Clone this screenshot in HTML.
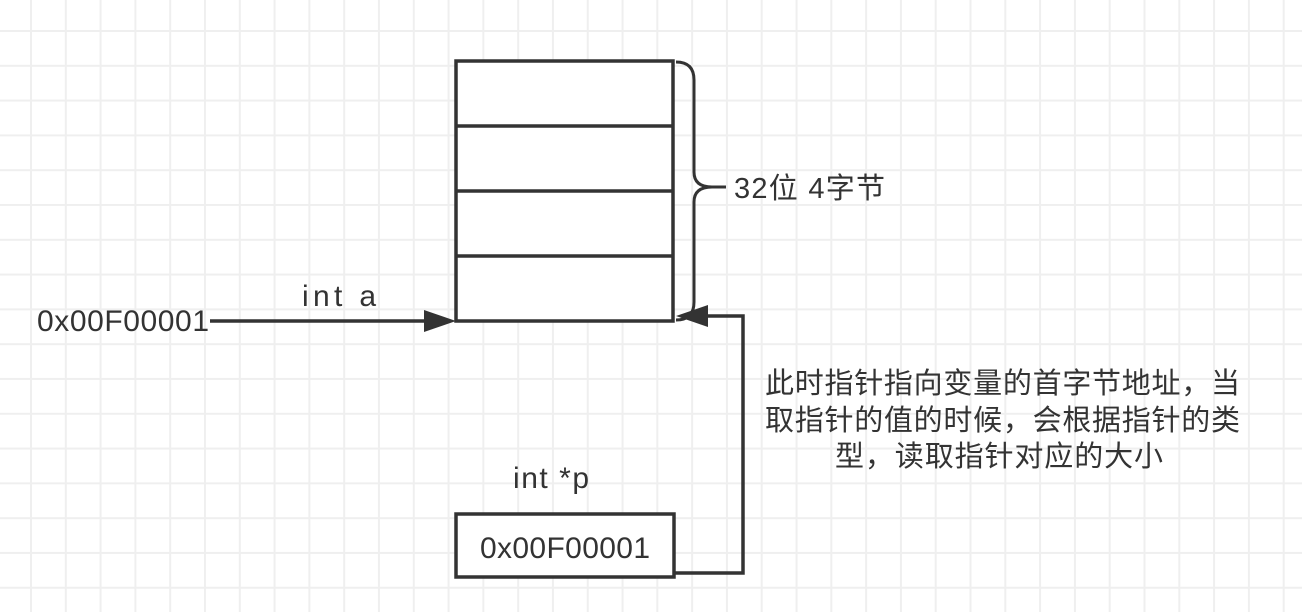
<!DOCTYPE html>
<html><head><meta charset="utf-8"><style>
html,body{margin:0;padding:0}
body{width:1302px;height:612px;overflow:hidden;background:#fff;position:relative;
background-image:linear-gradient(to right,#efefef 0,#efefef 2px,transparent 2px),linear-gradient(to bottom,#efefef 0,#efefef 2px,transparent 2px);
background-size:34.8px 34.8px;background-position:30px 30px;}
svg{position:absolute;left:0;top:0}
text{font-family:"Liberation Sans","Noto Sans CJK SC",sans-serif;fill:#333}
</style></head><body>
<svg width="1302" height="612" viewBox="0 0 1302 612">
<g stroke="#333" stroke-width="3.5" fill="none">
<rect x="456" y="61" width="217" height="260" fill="#fff"/>
<line x1="456" y1="126" x2="673" y2="126"/>
<line x1="456" y1="191" x2="673" y2="191"/>
<line x1="456" y1="256" x2="673" y2="256"/>
<rect x="456" y="514" width="218" height="63" fill="#fff"/>
<path d="M676 62 Q694 62 694 80 L694 172 Q694 187 712 187 L726 187 M712 187 Q694 187 694 202 L694 302 Q694 320 676 320" stroke-width="3"/>
<line x1="210" y1="321" x2="432" y2="321"/>
<polyline points="674,573 743,573 743,316 700,316"/>
</g>
<polygon points="456,321 424,310 424,332" fill="#333"/>
<polygon points="676,316 708,305 708,327" fill="#333"/>
<text x="37" y="331" font-size="30" textLength="172">0x00F00001</text>
<text x="302" y="306" font-size="30" textLength="74">int a</text>
<text x="734" y="198" font-size="29" textLength="151">32位 4字节</text>
<text x="513" y="488" font-size="30" textLength="76">int *p</text>
<text x="480" y="558" font-size="30" textLength="170">0x00F00001</text>
<text x="765" y="393" font-size="29" textLength="475">此时指针指向变量的首字节地址，当</text>
<text x="765" y="430" font-size="29" textLength="475">取指针的值的时候，会根据指针的类</text>
<text x="835" y="466" font-size="29" textLength="328">型，读取指针对应的大小</text>
</svg>
</body></html>
